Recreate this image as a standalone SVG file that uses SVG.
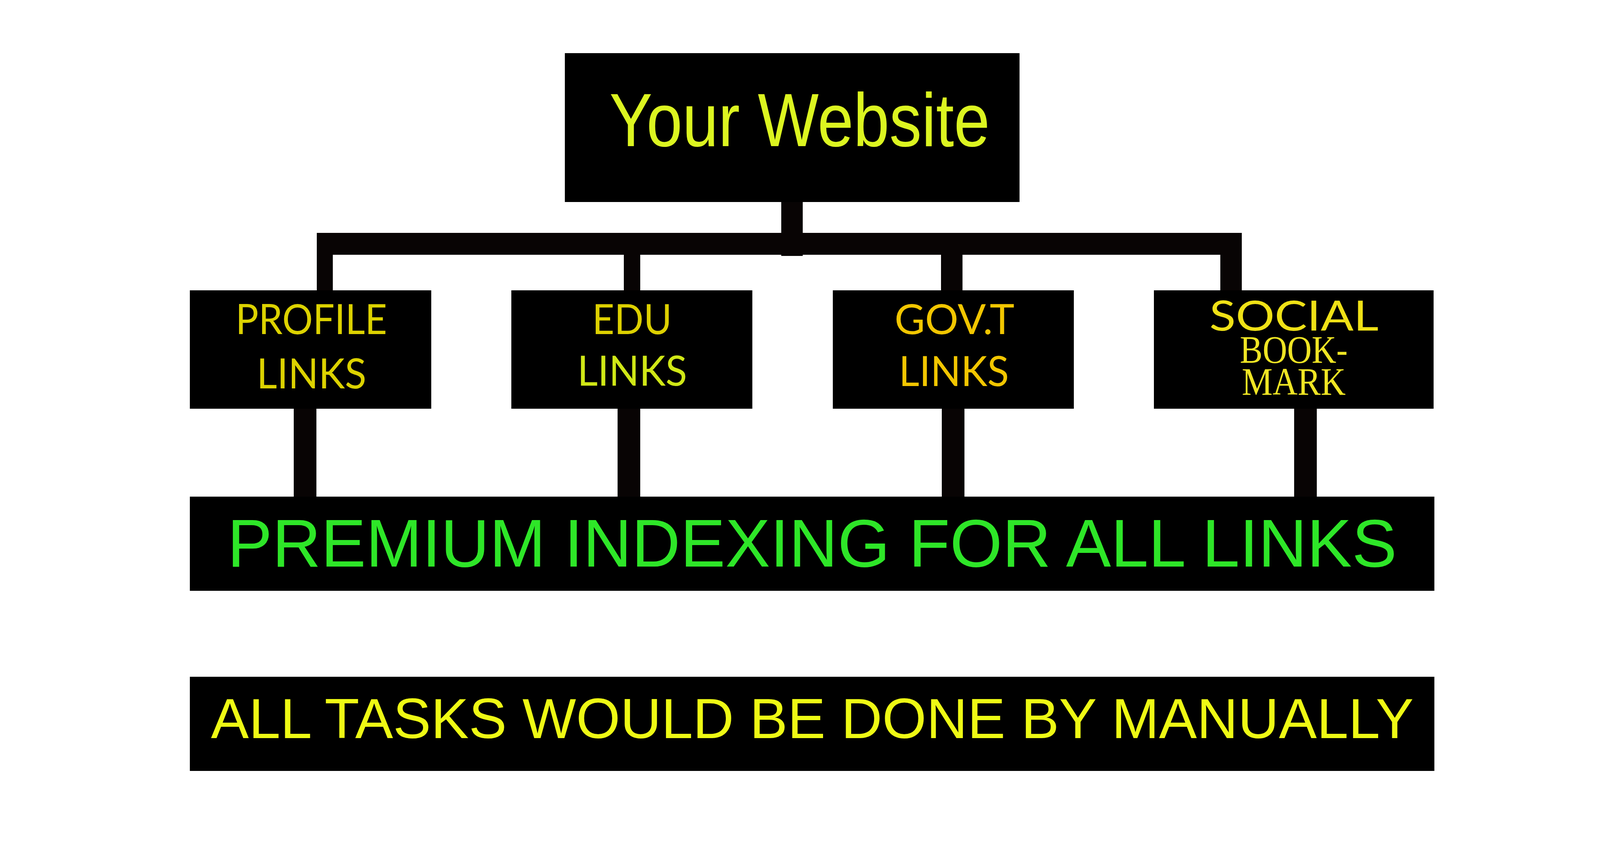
<svg xmlns="http://www.w3.org/2000/svg" width="4188" height="2160" viewBox="0 0 4188 2160">
<style>
.box{fill:#000}
.con{fill:#080404}
.sans{font-family:"Liberation Sans",Arial,sans-serif}
.lab{font-family:Lato,"Open Sans","Liberation Sans",sans-serif;font-size:106px}
.ser{font-family:"Liberation Serif","Times New Roman",serif;font-size:100px}
</style>
<rect width="4188" height="2160" fill="#fff"/>
<g id="connectors">
<rect class="con" x="2000" y="517" width="55" height="138"/>
<rect class="con" x="811" y="596" width="2368" height="56"/>
<rect class="con" x="811" y="640" width="41" height="105"/>
<rect class="con" x="1597" y="640" width="42" height="105"/>
<rect class="con" x="2409" y="640" width="55" height="105"/>
<rect class="con" x="3124" y="620" width="55" height="125"/>
<rect class="con" x="752" y="1044" width="58" height="229"/>
<rect class="con" x="1581" y="1044" width="58" height="229"/>
<rect class="con" x="2411" y="1044" width="58" height="229"/>
<rect class="con" x="3313" y="1044" width="58" height="229"/>
</g>
<g id="website">
<rect class="box" x="1446" y="136" width="1164" height="381"/>
<text class="sans" x="1560" y="374" font-size="193" fill="#dcf520" textLength="974" lengthAdjust="spacingAndGlyphs">Your Website</text>
</g>
<g id="profile">
<rect class="box" x="486" y="743" width="618" height="303"/>
<text class="lab" x="603" y="855" fill="#dcd200" textLength="388" lengthAdjust="spacingAndGlyphs">PROFILE</text>
<text class="lab" x="657" y="994" fill="#dcd200" textLength="281" lengthAdjust="spacingAndGlyphs">LINKS</text>
</g>
<g id="edu">
<rect class="box" x="1309" y="743" width="617" height="303"/>
<text class="lab" x="1516" y="855" fill="#ddd000" textLength="204" lengthAdjust="spacingAndGlyphs">EDU</text>
<text class="lab" x="1478" y="987" fill="#d0e716" textLength="281" lengthAdjust="spacingAndGlyphs">LINKS</text>
</g>
<g id="govt">
<rect class="box" x="2132" y="743" width="617" height="303"/>
<text class="lab" x="2290" y="855" fill="#f2c600" textLength="307" lengthAdjust="spacingAndGlyphs">GOV.T</text>
<text class="lab" x="2301" y="988" fill="#f2c600" textLength="282" lengthAdjust="spacingAndGlyphs">LINKS</text>
</g>
<g id="social">
<rect class="box" x="2954" y="743" width="716" height="303"/>
<text class="lab" x="3096" y="846" font-size="137" fill="#efe116" textLength="433" lengthAdjust="spacingAndGlyphs">SOCIAL</text>
<text class="ser" x="3174" y="928" fill="#efe524" textLength="276" lengthAdjust="spacingAndGlyphs">BOOK-</text>
<text class="ser" x="3179" y="1010" fill="#efe524" textLength="266" lengthAdjust="spacingAndGlyphs">MARK</text>
</g>
<g id="premium">
<rect class="box" x="486" y="1271" width="3186" height="241"/>
<text class="sans" x="582" y="1450" font-size="172" fill="#2ee628" textLength="2994" lengthAdjust="spacingAndGlyphs">PREMIUM INDEXING FOR ALL LINKS</text>
</g>
<g id="manual">
<rect class="box" x="486" y="1732" width="3186" height="241"/>
<text class="sans" x="540" y="1889" font-size="145" fill="#eefa14" textLength="3079" lengthAdjust="spacingAndGlyphs">ALL TASKS WOULD BE DONE BY MANUALLY</text>
</g>
</svg>
